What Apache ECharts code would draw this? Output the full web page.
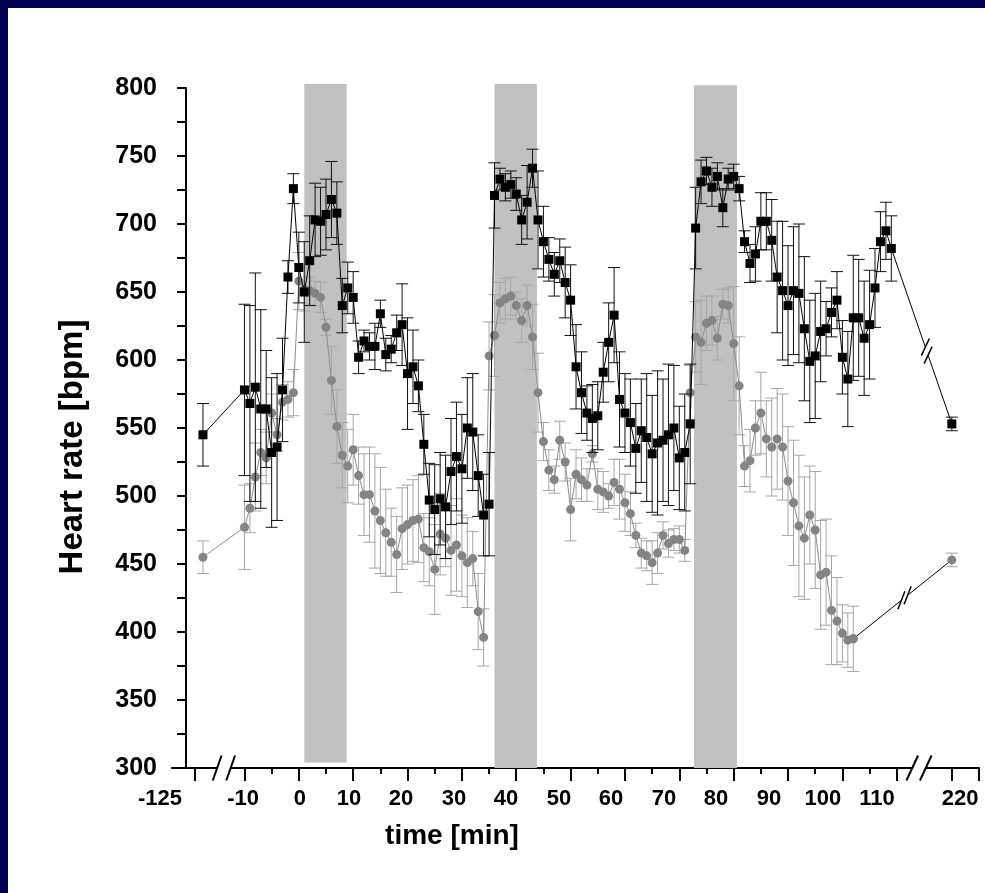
<!DOCTYPE html>
<html><head><meta charset="utf-8">
<script src="https://cdn.jsdelivr.net/npm/echarts@6/dist/echarts.min.js"></script>
<style>html,body{margin:0;padding:0;background:#fff}#c{width:985px;height:893px}</style>
</head><body><div id="c"></div>
<script>
// ---------------- data ----------------
const blackTime = [-120,
 -10,-9,-8,-7,-6,-5,-4,-3,-2,-1,
 0,1,2,3,4,5,6,7,8,9,
 10,11,12,13,14,15,16,17,18,19,
 20,21,22,23,24,25,26,27,28,29,
 30,31,32,33,34,35,36,37,38,39,
 40,41,42,43,44,45,46,47,48,49,
 50,51,52,53,54,55,56,57,58,59,
 60,61,62,63,64,65,66,67,68,69,
 70,71,72,73,74,75,76,77,78,79,
 80,81,82,83,84,85,86,87,88,89,
 90,91,92,93,94,95,96,97,98,99,
 100,101,102,103,104,105,106,107,108,109,
 220];
const blackMean = [545,
 578,568,580,564,564,532,536,578,661,726,
 668,650,673,703,702,707,718,708,640,653,
 646,602,614,610,610,634,604,608,620,626,
 590,595,581,538,497,490,498,492,518,529,
 520,550,547,515,486,494,721,733,727,729,
 722,703,716,741,703,687,674,663,673,657,
 644,595,576,561,557,559,591,613,633,571,
 561,554,535,548,543,531,539,541,545,550,
 528,532,553,697,731,739,727,735,712,733,
 735,726,687,671,678,702,702,688,661,651,
 640,651,649,623,599,603,621,623,635,644,
 602,586,631,631,616,626,653,687,695,682,
 553];
const blackSem = [23,
 63,72,84,73,43,55,54,38,12,11,
 26,37,33,27,25,26,28,23,20,19,
 19,12,8,10,17,10,12,10,13,30,
 41,27,19,22,27,33,34,38,39,40,
 40,37,43,30,30,38,24,8,10,10,
 12,18,27,14,36,26,16,16,16,26,
 26,31,30,20,25,25,22,29,35,35,
 29,32,33,38,47,43,53,45,52,46,
 38,43,44,30,16,10,14,10,14,8,
 9,9,8,14,20,21,21,30,41,51,
 44,47,51,53,45,46,37,20,18,21,
 27,35,46,43,42,40,29,22,21,24,
 5];

const grayTime = [-120,
 -10,-9,-8,-7,-6,-5,-4,-3,-2,-1,
 0,1,2,3,4,5,6,7,8,9,
 10,11,12,13,14,15,16,17,18,19,
 20,21,22,23,24,25,26,27,28,29,
 30,31,32,33,34,35,36,37,38,39,
 40,41,42,43,44,45,46,47,48,49,
 50,51,52,53,54,55,56,57,58,59,
 60,61,62,63,64,65,66,67,68,69,
 70,71,72,73,74,75,76,77,78,79,
 80,81,82,83,84,85,86,87,88,89,
 90,91,92,93,94,95,96,97,98,99,
 100,101,102,
 220];
const grayMean = [455,
 477,491,514,532,528,561,545,569,571,576,
 658,652,651,649,646,624,585,551,530,522,
 534,515,501,501,489,482,473,466,457,476,
 479,482,483,462,459,446,472,469,460,464,
 456,451,454,415,396,603,618,642,645,647,
 640,629,640,617,576,540,519,512,541,525,
 490,516,512,508,531,505,503,500,510,505,
 495,487,471,458,456,451,458,471,465,468,
 468,460,576,617,613,627,629,616,641,640,
 612,581,522,526,550,561,542,536,542,536,
 511,495,478,469,486,475,442,444,416,408,
 399,394,395,
 453];
const graySem = [12,
 31,18,25,17,19,14,12,13,13,17,
 21,16,10,9,11,6,25,27,24,27,
 26,21,30,35,42,39,32,25,28,30,
 29,30,32,25,25,33,30,21,33,34,
 30,33,20,28,21,25,30,15,15,14,
 10,16,15,24,29,14,15,10,14,14,
 23,18,16,12,6,15,15,9,17,22,
 21,16,9,11,11,16,15,10,10,8,
 10,8,20,26,31,20,18,16,11,13,
 42,36,15,23,20,30,28,36,37,39,
 40,46,52,45,36,43,40,39,40,32,
 21,20,24,
 5];

// exercise periods (min) and their vertical extent (bpm)
const bandStart = [1, 36, 72.7];
const bandEnd = [8.8, 43.8, 80.6];
const bandLow = [304, 300, 300];
const bandHigh = [803, 803, 802];

// axis ticks
const xMajorTicks = [-125,-10,0,10,20,30,40,50,60,70,80,90,100,110,220,230];
const xMinorTicks = [-5,5,15,25,35,45,55,65,75,85,95,105];
const xLabelText = ['-125','-10','0','10','20','30','40','50','60','70','80','90','100','110','220'];
const xLabelTime = [-125,-10,0,10,20,30,40,50,60,70,80,90,100,110,220];
// the printed labels sit slightly off their ticks in the original (offset in min)
const xLabelShift = [-6.44,-0.29,0.18,-0.81,-1.23,-1.49,-1.91,-2.17,-2.61,-2.85,-3.29,-3.53,-3.61,-3.68,1.47];
const xBreakAt = [-13.78, 114.09];   // axis-break positions (axis units)
const yMin = 300, yMax = 800, yStep = 25;

// ---------------- helpers ----------------
function toAxis(t) {           // broken time axis: compress the outer segments
  if (t < -50) return -19.13 + (t + 125) * 0.3;
  if (t > 150) return 120.13 + (t - 220) * 0.5;
  return t;
}
const xMinAxis = toAxis(-139), xMaxAxis = toAxis(230);

const FONT = '"Liberation Sans", Arial, sans-serif';
const blackPts = blackTime.map((t, i) => [toAxis(t), blackMean[i]]);
const grayPts = grayTime.map((t, i) => [toAxis(t), grayMean[i]]);
const blackErr = blackTime.map((t, i) => [toAxis(t), blackMean[i] - blackSem[i], blackMean[i] + blackSem[i]]);
const grayErr = grayTime.map((t, i) => [toAxis(t), grayMean[i] - graySem[i], grayMean[i] + graySem[i]]);
const bands = bandStart.map((s, i) => [s, bandEnd[i], bandLow[i], bandHigh[i]]);
const grayMain = grayPts.slice(0, grayPts.length - 1);
const grayJoin = grayPts.slice(grayPts.length - 2);
const bN = blackPts.length;
const lineBreaks = [
  [blackPts[bN - 2][0], blackPts[bN - 2][1], blackPts[bN - 1][0], blackPts[bN - 1][1], 0.585, 8.5, 4, 8.5],
  [grayJoin[0][0], grayJoin[0][1], grayJoin[1][0], grayJoin[1][1], 0.52, 8, 3.5, 9]
];
const labelPos = xLabelTime.map((t, i) => toAxis(t) + xLabelShift[i]);

function errRender(color) {
  return function (params, api) {
    const x = api.value(0);
    const lo = api.coord([x, api.value(1)]);
    const hi = api.coord([x, api.value(2)]);
    const w = 6;
    const st = { stroke: color, lineWidth: 1 };
    return { type: 'group', children: [
      { type: 'line', shape: { x1: lo[0], y1: lo[1], x2: hi[0], y2: hi[1] }, style: st },
      { type: 'line', shape: { x1: lo[0] - w, y1: lo[1], x2: lo[0] + w, y2: lo[1] }, style: st },
      { type: 'line', shape: { x1: hi[0] - w, y1: hi[1], x2: hi[0] + w, y2: hi[1] }, style: st }
    ]};
  };
}
function breakShape(c, u, gap, hx, hy, lw, coverW) {
  const a = [c[0] - u[0] * gap / 2, c[1] - u[1] * gap / 2];
  const b = [c[0] + u[0] * gap / 2, c[1] + u[1] * gap / 2];
  const st = { stroke: '#000', lineWidth: lw };
  return [
    { type: 'line', shape: { x1: a[0], y1: a[1], x2: b[0], y2: b[1] }, style: { stroke: '#fff', lineWidth: coverW } },
    { type: 'line', shape: { x1: a[0] - hx, y1: a[1] + hy, x2: a[0] + hx, y2: a[1] - hy }, style: st },
    { type: 'line', shape: { x1: b[0] - hx, y1: b[1] + hy, x2: b[0] + hx, y2: b[1] - hy }, style: st }
  ];
}

const chart = echarts.init(document.getElementById('c'), null, { renderer: 'canvas' });
const option = {
  backgroundColor: '#fff',
  animation: false,
  graphic: [
    { type: 'rect', shape: { x: 0, y: 0, width: 985, height: 8 }, style: { fill: '#000050' }, z: 100 },
    { type: 'rect', shape: { x: 0, y: 0, width: 8, height: 893 }, style: { fill: '#000050' }, z: 100 },
    { type: 'text', x: 452, y: 836, z: 100,
      style: { text: 'time [min]', font: 'bold 28px ' + FONT, fill: '#000', align: 'center', verticalAlign: 'middle', textAlign: 'center', textVerticalAlign: 'middle' } },
    { type: 'text', x: 73, y: 447, rotation: Math.PI / 2, z: 100,
      style: { text: 'Heart rate [bpm]', font: 'bold 33px ' + FONT, fill: '#000', align: 'center', verticalAlign: 'middle', textAlign: 'center', textVerticalAlign: 'middle' } }
  ],
  grid: [
    { left: 172, right: 6, top: 88, bottom: 125 },
    { left: 0, right: 0, top: 88, bottom: 125 }
  ],
  xAxis: [
    { gridIndex: 0, type: 'value', position: 'bottom', min: xMinAxis, max: xMaxAxis,
      axisLine: { onZero: false, lineStyle: { color: '#000', width: 2 } },
      axisTick: { show: true, inside: false, length: 13, lineStyle: { color: '#000', width: 2 }, customValues: xMajorTicks.map(toAxis) },
      axisLabel: { show: false }, splitLine: { show: false } },
    { gridIndex: 0, type: 'value', position: 'bottom', min: xMinAxis, max: xMaxAxis,
      axisLine: { show: false, onZero: false },
      axisTick: { show: true, inside: false, length: 6, lineStyle: { color: '#000', width: 2 }, customValues: xMinorTicks.map(toAxis) },
      axisLabel: { show: false }, splitLine: { show: false } },
    { gridIndex: 1, type: 'value', position: 'bottom', min: -299 / 5.436, max: (985 - 299) / 5.436,
      axisLine: { show: false, onZero: false }, axisTick: { show: false }, splitLine: { show: false },
      axisLabel: { show: true, margin: 20, color: '#000', fontSize: 22, fontWeight: 'bold', fontFamily: FONT,
        customValues: labelPos,
        formatter: function (v) {
          let best = 0, bd = 1e9;
          labelPos.forEach((p, i) => { const d = Math.abs(p - v); if (d < bd) { bd = d; best = i; } });
          return xLabelText[best];
        } } }
  ],
  yAxis: [
    { gridIndex: 0, type: 'value', min: yMin, max: yMax, interval: yStep, offset: -14,
      axisLine: { show: true, onZero: false, lineStyle: { color: '#000', width: 2 } },
      axisTick: { show: true, inside: false, length: 9, lineStyle: { color: '#000', width: 2 } },
      axisLabel: { margin: 29, color: '#000', fontSize: 25, fontWeight: 'bold', fontFamily: FONT,
        formatter: v => (v % 50 === 0 ? String(v) : '') },
      splitLine: { show: false } },
    { gridIndex: 1, type: 'value', min: yMin, max: yMax, show: false }
  ],
  series: [
    { type: 'custom', name: 'exercise', xAxisIndex: 0, yAxisIndex: 0, z: 1, silent: true,
      data: bands, encode: { x: [0, 1], y: [2, 3] },
      renderItem: function (params, api) {
        const p1 = api.coord([api.value(0), api.value(3)]);
        const p2 = api.coord([api.value(1), api.value(2)]);
        return { type: 'rect', shape: { x: p1[0], y: p1[1], width: p2[0] - p1[0], height: p2[1] - p1[1] }, style: { fill: '#c0c0c0' } };
      } },
    { type: 'custom', name: 'grayErr', xAxisIndex: 0, yAxisIndex: 0, z: 2, silent: true,
      data: grayErr, encode: { x: 0, y: [1, 2] }, renderItem: errRender('#a6a6a6') },
    { type: 'line', name: 'grayJoin', xAxisIndex: 0, yAxisIndex: 0, z: 3, data: grayJoin,
      symbol: 'circle', symbolSize: 9, itemStyle: { color: '#848484' },
      lineStyle: { color: '#000', width: 1 } },
    { type: 'line', name: 'gray', xAxisIndex: 0, yAxisIndex: 0, z: 4, data: grayMain,
      symbol: 'circle', symbolSize: 9, itemStyle: { color: '#848484' },
      lineStyle: { color: '#8c8c8c', width: 1 } },
    { type: 'custom', name: 'blackErr', xAxisIndex: 0, yAxisIndex: 0, z: 5, silent: true,
      data: blackErr, encode: { x: 0, y: [1, 2] }, renderItem: errRender('#111') },
    { type: 'line', name: 'black', xAxisIndex: 0, yAxisIndex: 0, z: 6, data: blackPts,
      symbol: 'rect', symbolSize: 9, itemStyle: { color: '#000' },
      lineStyle: { color: '#000', width: 1 } },
    { type: 'custom', name: 'lineBreaks', xAxisIndex: 0, yAxisIndex: 0, z: 7, silent: true,
      data: lineBreaks, encode: { x: [0, 2], y: [1, 3] },
      renderItem: function (params, api) {
        const p1 = api.coord([api.value(0), api.value(1)]);
        const p2 = api.coord([api.value(2), api.value(3)]);
        const f = api.value(4);
        const dx = p2[0] - p1[0], dy = p2[1] - p1[1], L = Math.hypot(dx, dy);
        const c = [p1[0] + dx * f, p1[1] + dy * f];
        return { type: 'group', children: breakShape(c, [dx / L, dy / L], api.value(5), api.value(6), api.value(7), 1.5, 4) };
      } },
    { type: 'custom', name: 'axisBreaks', xAxisIndex: 0, yAxisIndex: 0, z: 8, silent: true,
      data: xBreakAt.map(x => [x, yMin]), encode: { x: 0, y: 1 }, clip: false,
      renderItem: function (params, api) {
        const c = api.coord([api.value(0), api.value(1)]);
        return { type: 'group', children: breakShape(c, [1, 0], 13.5, params.dataIndex === 0 ? 4.4 : 5.8, 12.5, 2, 6) };
      } }
  ]
};
chart.setOption(option);
</script>
</body></html>
